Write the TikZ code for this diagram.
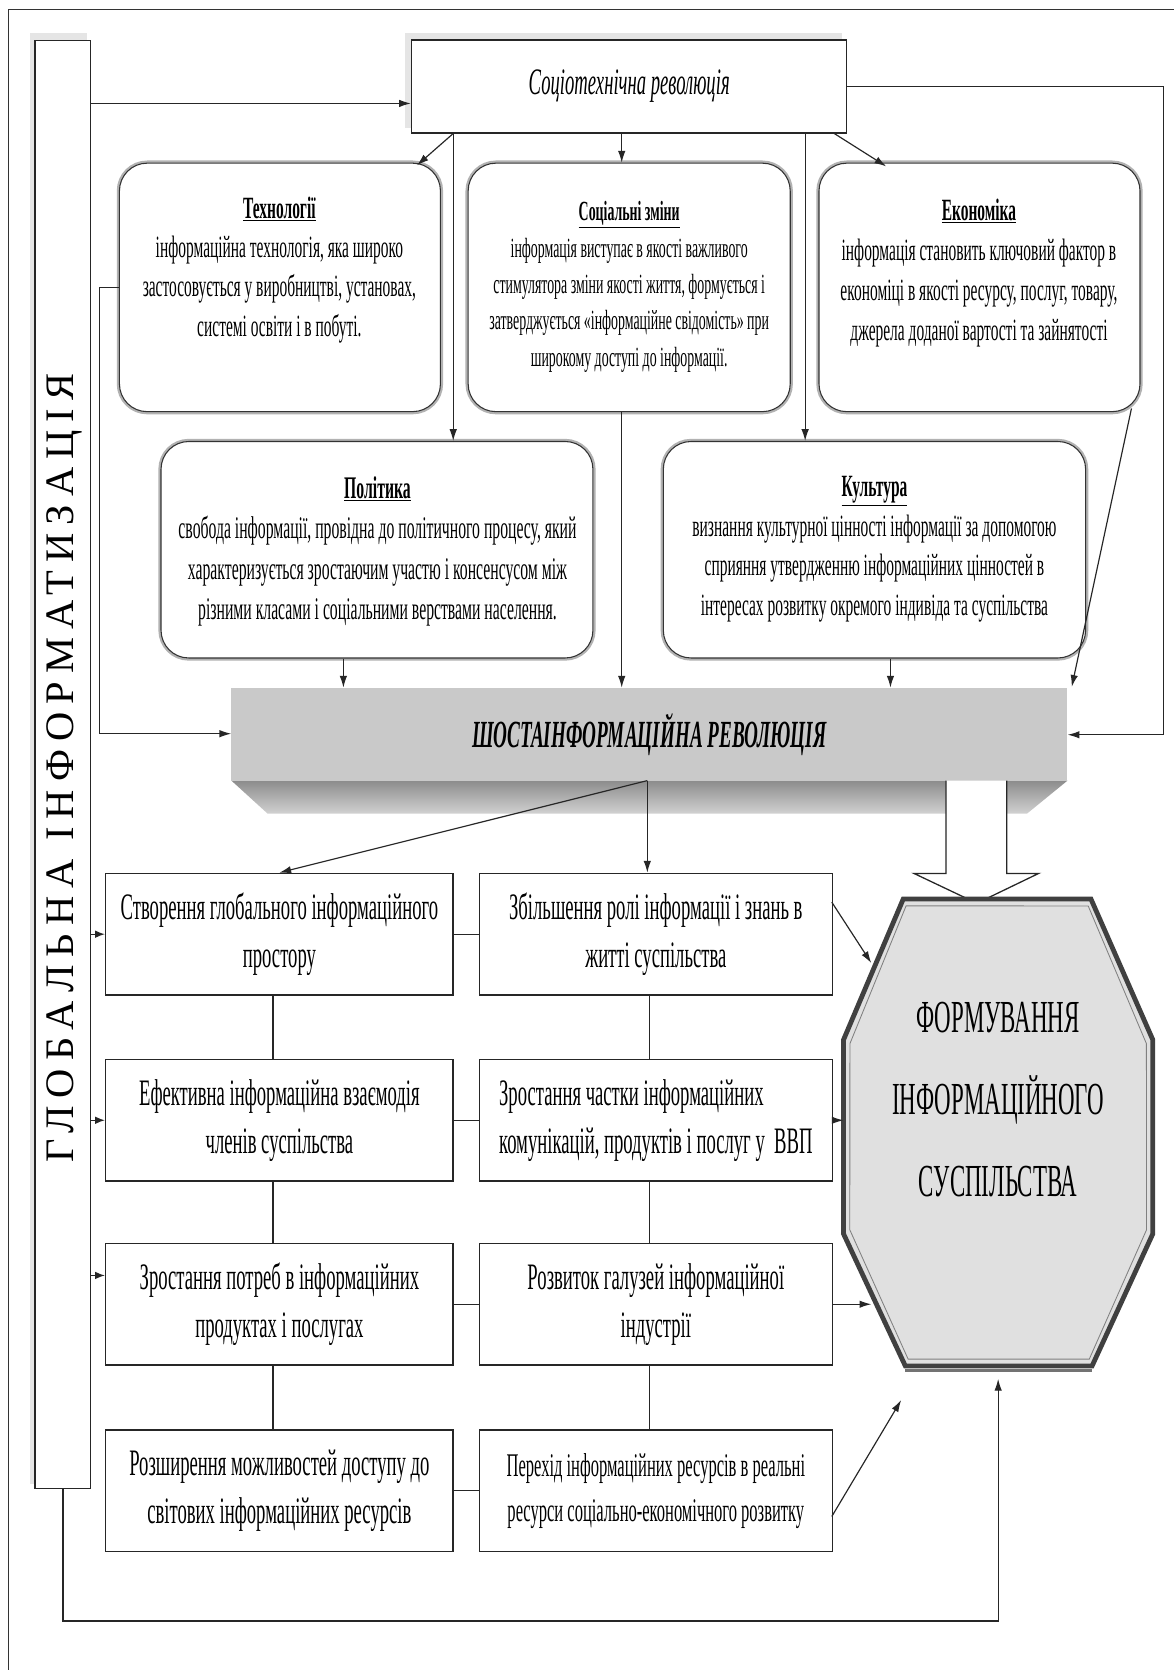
\documentclass[tikz,border=0pt]{standalone}
\usepackage{fontspec}
\setmainfont{Liberation Serif}
\newfontfamily\cf{Liberation Serif}[FakeStretch=0.5]
\newfontfamily\gf{Liberation Serif}[LetterSpace=20]
\usetikzlibrary{arrows.meta,calc}
\tikzset{
  every node/.style={text=black},
  ln/.style={line width=1.1pt, draw=black!85},
  arr/.style={ln, -{Latex[length=11pt,width=7pt]}},
  sarr/.style={ln, -{Latex[length=9pt,width=7pt]}},
  rbox/.style={draw=black!80, line width=1pt, rounded corners=26pt, fill=white,
     preaction={draw=black!30, line width=5pt}, inner sep=0pt},
  rtext/.style={align=center, inner sep=0pt},
  lbox/.style={draw=black!85, line width=1.4pt, fill=white, minimum width=326pt,
     minimum height=114pt, inner sep=0pt, align=center, font=\cf\fontsize{35}{45}\selectfont},
  rbx/.style={lbox, minimum width=331pt},
  sbox/.style={draw=black!85, line width=1.4pt, fill=white, inner sep=0pt},
}
\begin{document}
\begin{tikzpicture}[x=1pt,y=-1pt]
\useasboundingbox (0,0) rectangle (1100,1566);
\fill[white] (0,0) rectangle (1100,1566);
\draw[line width=1.6pt, black!80] (8,1570) -- (8,9) -- (1104,9);

% helper coordinates
\coordinate (y97) at (0,97);
\coordinate (y689) at (0,689);
\coordinate (y688) at (0,688);
\coordinate (y1196) at (0,1196);
\coordinate (y1520) at (0,1520);
\coordinate (y1293) at (0,1293);
\coordinate (rx) at (1091,0);
\coordinate (x93) at (93,0);
\coordinate (x322) at (322,0);
\coordinate (x425) at (425,0);
\coordinate (x583) at (583,0);
\coordinate (x755) at (755,0);
\coordinate (x835) at (835,0);
\coordinate (x256) at (256,0);
\coordinate (x609) at (609,0);
\coordinate (x59) at (59,0);
\coordinate (x936) at (936,0);

% left vertical box
\fill[black!10] (28,31) rectangle (82,1392);
\node[sbox, minimum width=52pt, minimum height=1358pt] (glob) at (59,717) {};
\node[rotate=90, font=\gf\fontsize{38}{38}\selectfont] (globT) at (60,720) {ГЛОБАЛЬНА ІНФОРМАТИЗАЦІЯ};

% top box
\fill[black!10] (380,31) rectangle (790,120);
\node[sbox, minimum width=408pt, minimum height=87pt, font=\cf\itshape\fontsize{35}{35}\selectfont] (socio) at (590,81) {Соціотехнічна революція};

% rounded boxes
\node[rbox, minimum width=301pt, minimum height=233pt] (tech) at (262.5,269.5) {};
\node[rbox, minimum width=302pt, minimum height=233pt] (soc) at (590,269.5) {};
\node[rbox, minimum width=301pt, minimum height=233pt] (econ) at (918.5,269.5) {};
\node[rbox, minimum width=405pt, minimum height=203pt] (pol) at (353.5,515.5) {};
\node[rbox, minimum width=396pt, minimum height=203pt] (kul) at (820,515.5) {};

\node[rtext, font=\cf\fontsize{29}{37}\selectfont] (techT) at (262,253)
 {\underline{\textbf{Технології}}\\інформаційна технологія, яка широко\\застосовується у виробництві, установах,\\системі освіти і в побуті.};
\node[rtext, font=\cf\fontsize{26}{34}\selectfont] (socT) at (590,269)
 {\underline{\textbf{Соціальні зміни}}\\інформація виступає в якості важливого\\стимулятора зміни якості життя, формується і\\затверджується «інформаційне свідомість» при\\широкому доступі до інформації.};
\node[rtext, font=\cf\fontsize{29}{37.5}\selectfont] (econT) at (918,256)
 {\underline{\textbf{Економіка}}\\інформація становить ключовий фактор в\\економіці в якості ресурсу, послуг, товару,\\джерела доданої вартості та зайнятості};
\node[rtext, font=\cf\fontsize{29.5}{38}\selectfont] (polT) at (354,517)
 {\underline{\textbf{Політика}}\\свобода інформації, провідна до політичного процесу, який\\характеризується зростаючим участю і консенсусом між\\різними класами і соціальними верствами населення.};
\node[rtext, font=\cf\fontsize{29}{37}\selectfont] (kulT) at (820,515)
 {\underline{\textbf{Культура}}\\визнання культурної цінності інформації за допомогою\\сприяння утвердженню інформаційних цінностей в\\інтересах розвитку окремого індивіда та суспільства};

% sixth revolution block
\shade[top color=black!45, bottom color=black!18] (217,732) -- (1001,732) -- (963,763) -- (251,763) -- cycle;
\node[fill=black!21, minimum width=784pt, minimum height=87pt, inner sep=0pt,
  font=\cf\bfseries\itshape\fontsize{36}{36}\selectfont] (shosta) at (609,688.5) {ШОСТАІНФОРМАЦІЙНА РЕВОЛЮЦІЯ};
\coordinate (sb) at (607,732);

% hollow arrow
\draw[line width=1.2pt, black!85, fill=white] (887,732) -- (887,819) -- (857,819) -- (916,847) -- (974,819) -- (944,819) -- (944,732);

% lower boxes
\node[lbox] (l1) at (262,876) {Створення глобального інформаційного\\простору};
\node[rbx] (r1) at (615,876) {Збільшення ролі інформації і знань в\\житті суспільства};
\node[lbox] (l2) at (262,1050.5) {Ефективна інформаційна взаємодія\\членів суспільства};
\node[rbx, align=left] (r2) at (615,1050.5) {Зростання частки інформаційних\\комунікацій, продуктів і послуг у~ ВВП};
\node[lbox] (l3) at (262,1223) {Зростання потреб в інформаційних\\продуктах і послугах};
\node[rbx] (r3) at (615,1223) {Розвиток галузей інформаційної\\індустрії};
\node[lbox] (l4) at (262,1398) {Розширення можливостей доступу до\\світових інформаційних ресурсів};
\node[rbx, font=\cf\fontsize{31}{42}\selectfont] (r4) at (615,1398) {Перехід інформаційних ресурсів в реальні\\ресурси соціально-економічного розвитку};

% octagon
\coordinate (o1) at (847,843);
\coordinate (o2) at (1023,843);
\coordinate (o3) at (1081,975);
\coordinate (o4) at (1081,1157);
\coordinate (o5) at (1024,1281);
\coordinate (o6) at (849,1281);
\coordinate (o7) at (791,1157);
\coordinate (o8) at (791,975);
\coordinate (oc) at (936,1062);
\fill[black!12] (o1) -- (o2) -- (o3) -- (o4) -- (o5) -- (o6) -- (o7) -- (o8) -- cycle;
\draw[line width=3pt, black!55] ($(o6)+(0,4)$) -- ($(o5)+(0,4)$);
\draw[line width=4.5pt, black!75] (o1) -- (o2) -- (o3) -- (o4) -- (o5) -- (o6) -- (o7) -- (o8) -- cycle;
\draw[line width=0.8pt, black!50] ($(o1)!7pt!(oc)$) -- ($(o2)!7pt!(oc)$) -- ($(o3)!7pt!(oc)$) -- ($(o4)!7pt!(oc)$) -- ($(o5)!7pt!(oc)$) -- ($(o6)!7pt!(oc)$) -- ($(o7)!7pt!(oc)$) -- ($(o8)!7pt!(oc)$) -- cycle;
\node[align=center, inner sep=0pt, font=\cf\fontsize{43}{77}\selectfont] (form) at (936,1031) {ФОРМУВАННЯ\\ІНФОРМАЦІЙНОГО\\СУСПІЛЬСТВА};

% connectors, top part
\draw[arr] (glob.east |- y97) -- (socio.west |- y97);
\draw[arr] (socio.east) -- (socio.east -| rx) -- (rx |- y689) -- (shosta.east |- y689);
\coordinate (t1) at (391,155);
\coordinate (e1) at (831,156);
\draw[arr] (socio.south -| x425) -- (t1);
\draw[arr] (socio.south -| x583) -- (soc.north -| x583);
\coordinate (s3) at (782,125);
\draw[arr] (s3) -- (e1);
\draw[arr] (socio.south -| x425) -- (pol.north -| x425);
\draw[arr] (socio.south -| x755) -- (kul.north -| x755);
\draw[arr] (soc.south -| x583) -- (shosta.north -| x583);
\draw[arr] (pol.south -| x322) -- (shosta.north -| x322);
\draw[arr] (kul.south -| x835) -- (shosta.north -| x835);
\coordinate (ec) at (1061,383);
\coordinate (sh1) at (1005,644);
\draw[arr] (ec) -- (sh1);
\draw[arr] (tech.west) -- (tech.west -| x93) -- (x93 |- y688) -- (shosta.west |- y688);

% from sixth revolution
\draw[arr] (sb) -- (sb |- r1.north);
\draw[arr] (sb) -- (l1.north);

% lower grid
\draw[ln] (l1.south -| x256) -- (l2.north -| x256);
\draw[ln] (l2.south -| x256) -- (l3.north -| x256);
\draw[ln] (l3.south -| x256) -- (l4.north -| x256);
\draw[ln] (r1.south -| x609) -- (r2.north -| x609);
\draw[ln] (r2.south -| x609) -- (r3.north -| x609);
\draw[ln] (r3.south -| x609) -- (r4.north -| x609);
\draw[ln] (l1.east) -- (r1.west);
\draw[ln] (l2.east) -- (r2.west);
\draw[ln] (l3.east) -- (r3.west);
\draw[ln] (l4.east) -- (r4.west);
\draw[sarr] (glob.east |- l1.west) -- (l1.west);
\draw[sarr] (glob.east |- l2.west) -- (l2.west);
\draw[sarr] (glob.east |- y1196) -- (l3.west |- y1196);

% to the octagon
\coordinate (r1s) at (780,846);
\coordinate (q1) at (817,903);
\draw[arr] (r1s) -- (q1);
\draw[arr] (r2.east) -- (r2.east -| o8);
\coordinate (q3) at (817,1223);
\draw[arr] (r3.east) -- (q3);
\coordinate (r4s) at (780,1422);
\coordinate (q4) at (845,1313);
\draw[arr] (r4s) -- (q4);
\draw[arr] (glob.south -| x59) -- (x59 |- y1520) -- (x936 |- y1520) -- (x936 |- y1293);
\end{tikzpicture}
\end{document}
